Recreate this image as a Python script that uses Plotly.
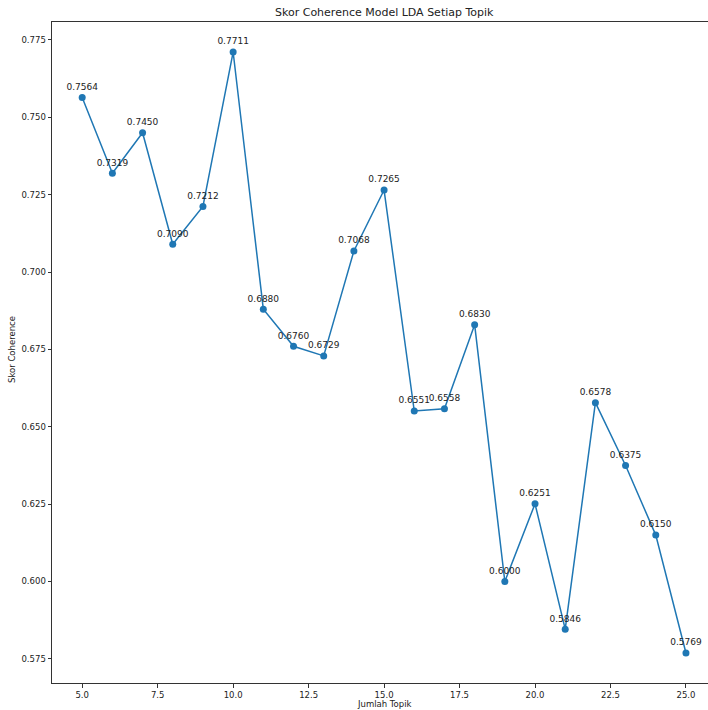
import plotly.graph_objects as go

jumlah_topik = list(range(5, 26))
skor_coherence = [0.7564, 0.7319, 0.7450, 0.7090, 0.7212, 0.7711, 0.6880, 0.6760,
                  0.6729, 0.7068, 0.7265, 0.6551, 0.6558, 0.6830, 0.6000, 0.6251,
                  0.5846, 0.6578, 0.6375, 0.6150, 0.5769]
labels = [f"{v:.4f}" for v in skor_coherence]

x_ticks = [5.0, 7.5, 10.0, 12.5, 15.0, 17.5, 20.0, 22.5, 25.0]
y_ticks = [0.575, 0.600, 0.625, 0.650, 0.675, 0.700, 0.725, 0.750, 0.775]

FONT = "DejaVu Sans"
W, H = 708, 710
ML, MR, MT, MB = 52, 0, 22, 27
PW, PH = W - ML - MR, H - MT - MB


def px_to_paper(px, py):
    return (px - ML) / PW, (H - py - MB) / PH


fig = go.Figure()
fig.add_trace(go.Scatter(
    x=jumlah_topik, y=skor_coherence, mode="lines+markers+text",
    text=labels, textposition="top center",
    textfont=dict(family=FONT, size=9, color="#222"),
    line=dict(color="#1f77b4", width=1.5),
    marker=dict(color="#1f77b4", size=7),
    cliponaxis=False, showlegend=False,
))

annots = []
for txt, px, py, size, angle in [
    ("Skor Coherence Model LDA Setiap Topik", 385, 12, 11, 0),
    ("Jumlah Topik", 384, 704, 8.5, 0),
    ("Skor Coherence", 12, 350, 8.5, -90),
]:
    ax, ay = px_to_paper(px, py)
    annots.append(dict(text=txt, x=ax, y=ay, xref="paper", yref="paper",
                       xanchor="center", yanchor="middle", textangle=angle,
                       showarrow=False, font=dict(family=FONT, size=size, color="#222")))

fig.update_layout(
    width=W, height=H,
    margin=dict(l=ML, r=MR, t=MT, b=MB),
    paper_bgcolor="white", plot_bgcolor="white",
    font=dict(family=FONT, size=9, color="#222"),
    xaxis=dict(range=[4.0, 25.73], tickvals=x_ticks, ticktext=[f"{v:.1f}" for v in x_ticks],
               showgrid=False, zeroline=False, showline=True, linecolor="#333", linewidth=1,
               mirror=True, ticks="outside", ticklen=3.5, tickcolor="#333",
               tickfont=dict(family=FONT, size=8.5, color="#222")),
    yaxis=dict(range=[0.5672, 0.7808], tickvals=y_ticks, ticktext=[f"{v:.3f}" for v in y_ticks],
               showgrid=False, zeroline=False, showline=True, linecolor="#333", linewidth=1,
               ticks="outside", ticklen=3.5, tickcolor="#333",
               tickfont=dict(family=FONT, size=8.5, color="#222")),
    annotations=annots,
)

fig.write_html("out.html", config={"displayModeBar": False},
               post_script="document.body.style.margin='0';document.body.style.overflow='hidden';")
